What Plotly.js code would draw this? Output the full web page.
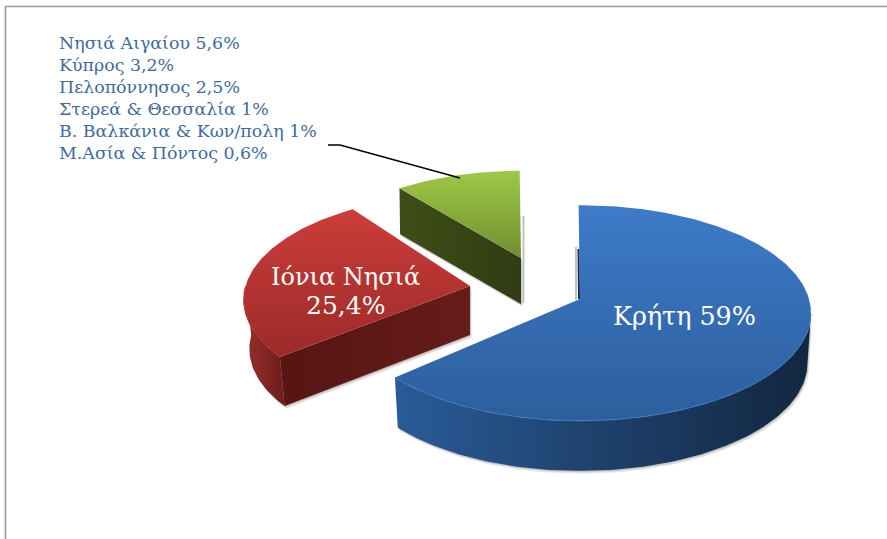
<!DOCTYPE html>
<html><head><meta charset="utf-8">
<script src="https://cdn.plot.ly/plotly-3.0.1.min.js"></script>
<style>html,body{margin:0;padding:0;background:#fff}#c{width:887px;height:539px}</style>
</head><body><div id="c"></div>
<script>
// Data
const smallGroups = ['Νησιά Αιγαίου 5,6%','Κύπρος 3,2%','Πελοπόννησος 2,5%','Στερεά & Θεσσαλία 1%','Β. Βαλκάνια & Κων/πολη 1%','Μ.Ασία & Πόντος 0,6%'];
const sliceNames = ['Κρήτη','Ιόνια Νησιά','Λοιπά'];
// Printed percentages
const sliceLabels = [59, 25.4, 13.9];
const sliceShares = [63.3, 26.0, 10.7];

// Projection of the pie plane onto the page
const R = 229, S = 106, K = 0.13;
const geom = [
  {ax:580, ay:299, scale:1,    depth:50, rot:0,   shrink:0.985, top:['#3E7BCA','#2C5E9C'], side:['#2A5B98','#12263F'], rim:'#3F78BE', sideFrom:97.5, sideTo:null, ray:false},
  {ax:470, ay:286, scale:0.98, depth:49, rot:3.6, shrink:0.975, top:['#CC3D3A','#9C2A29'], side:['#972F2C','#6E1D1B'], rim:'#B83634', sideFrom:null, sideTo:270, ray:true, rayCol:['#571513','#661C1A']},
  {ax:521, ay:258, scale:0.93, depth:46, rot:0,   shrink:0.995, top:['#9EC846','#708F31'], side:null, rim:null, sideFrom:null, sideTo:null, ray:true, rayCol:['#3F4E19','#303C12']}
];
const rad = d => d*Math.PI/180;
function pt(g, deg){
  const X = Math.sin(rad(deg)), Y = Math.cos(rad(deg)), w = 1 + K*Y;
  return [g.ax + g.scale*R*X/w, g.ay - g.scale*S*Y/w];
}
function arc(g, a, b){
  const n = Math.max(8, Math.ceil(Math.abs(b-a)));
  const out = [];
  for(let i=0;i<=n;i++) out.push(pt(g, a+(b-a)*i/n));
  return out;
}
const sunk = (g, p) => [g.ax + (p[0]-g.ax)*g.shrink, p[1]+g.depth];
const poly = (pts, extra) => Object.assign({
  type:'scatter', mode:'lines', x:pts.map(p=>p[0]), y:pts.map(p=>p[1]),
  fill:'toself', line:{width:0}, hoverinfo:'skip', showlegend:false
}, extra);
const grad = (type, c) => ({fillgradient:{type:type, colorscale:[[0,c[0]],[1,c[1]]]}});
const stroke = (xs, ys, color, width) => ({type:'scatter',mode:'lines',x:xs,y:ys,line:{color:color,width:width},hoverinfo:'skip',showlegend:false});

const traces = [];
let cursor = -0.4;
const total = sliceShares.reduce((a,b)=>a+b,0);
sliceShares.forEach((v,i)=>{
  const g = geom[i], start = cursor + g.rot, end = start + v/total*360;
  const apex = [g.ax,g.ay], rimPts = arc(g,start,end);
  const sideShapes = [];
  if(g.ray){ const e=pt(g,start); sideShapes.push({p:[apex,e,sunk(g,e),sunk(g,apex)],c:g.rayCol}); }
  if(g.sideFrom!=null){
    const a = arc(g,g.sideFrom,end); sideShapes.push({p:a.concat(a.slice().reverse().map(q=>sunk(g,q))),c:g.side});
  }
  if(g.sideTo!=null){
    const a = arc(g,start,g.sideTo); sideShapes.push({p:a.concat(a.slice().reverse().map(q=>sunk(g,q))),c:g.side});
  }
  sideShapes.forEach(s=>{
    [[3,0.10],[2,0.14],[1,0.20]].forEach(o=>{
      traces.push(poly(s.p.map(q=>[q[0]+o[0]*0.6,q[1]+o[0]]),{fillcolor:'rgba(90,90,90,'+o[1]+')'}));
    });
  });
  sideShapes.forEach(s=>traces.push(poly(s.p.concat([s.p[0]]),grad('horizontal',s.c))));
  if(i===0){
    traces.push(stroke([g.ax-4,g.ax-4],[g.ay-52,g.ay+1],'rgba(120,120,120,0.45)',2));
    traces.push(stroke([g.ax-1.5,g.ax-1],[g.ay-50,g.ay],'#14304F',2));
  }
  if(i===2){
    traces.push(stroke([g.ax+2.5,g.ax+2.5],[g.ay-42,g.ay+g.depth-1],'rgba(120,120,120,0.45)',2));
  }
  traces.push(poly([apex].concat(rimPts,[apex]),grad('vertical',[g.top[1],g.top[0]])));
  if(g.rim){
    const r = g.sideFrom!=null ? arc(g,g.sideFrom,end) : arc(g,start,g.sideTo);
    traces.push(stroke(r.map(p=>p[0]),r.map(p=>p[1]),g.rim,1));
  }
  cursor = cursor + v/total*360;
});

// Leader line
traces.push(stroke([328,340,460],[145,145,178],'#000',1.6));

const fmt = n => String(n).replace('.',',') + '%';
const serif = 'DejaVu Serif, serif';
const annotations = smallGroups.map((t,i)=>({
  xref:'x',yref:'y',x:57,y:43+i*22,text:t,showarrow:false,xanchor:'left',yanchor:'middle',
  font:{family:serif,size:17.4,color:'#3E6A9E'}
}));
annotations.push(
  {xref:'x',yref:'y',x:684,y:316,text:sliceNames[0]+' '+fmt(sliceLabels[0]),showarrow:false,font:{family:serif,size:25.4,color:'#fff'}},
  {xref:'x',yref:'y',x:345,y:277,text:sliceNames[1],showarrow:false,font:{family:serif,size:24,color:'#fff'}},
  {xref:'x',yref:'y',x:345,y:305,text:fmt(sliceLabels[1]),showarrow:false,font:{family:serif,size:25,color:'#fff'}}
);

const layout = {
  width:887,height:539,margin:{l:0,r:0,t:0,b:0},paper_bgcolor:'#fff',plot_bgcolor:'#fff',showlegend:false,
  xaxis:{range:[0,887],visible:false,fixedrange:true},
  yaxis:{range:[539,0],visible:false,fixedrange:true},
  annotations:annotations,
  shapes:[
    {type:'line',xref:'x',yref:'y',x0:5.5,x1:887,y0:6.5,y1:6.5,line:{color:'#9A9A9A',width:1.6}},
    {type:'line',xref:'x',yref:'y',x0:5.5,x1:5.5,y0:6,y1:539,line:{color:'#9A9A9A',width:1.6}}
  ]
};
Plotly.newPlot('c',traces,layout,{displayModeBar:false,staticPlot:true});
</script></body></html>
